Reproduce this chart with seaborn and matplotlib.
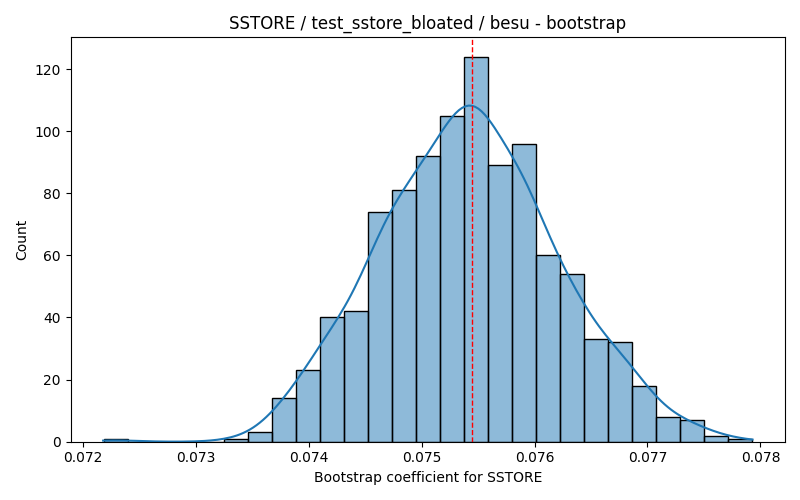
import numpy as np
import pandas as pd
import matplotlib
matplotlib.use("Agg")
import matplotlib.pyplot as plt
import seaborn as sns

# Histogram bins
bin_start = 0.0721853
bin_end = 0.0779260
n_bins = 27
counts = [1, 0, 0, 0, 0, 1, 3, 14, 23, 40, 42, 74, 81, 92, 105, 124,
          89, 96, 60, 54, 33, 32, 18, 8, 7, 2, 1]
point_estimate = 0.0754466

edges = np.linspace(bin_start, bin_end, n_bins + 1)
centers = (edges[:-1] + edges[1:]) / 2
df = pd.DataFrame({"coef": centers, "count": counts})

fig, ax = plt.subplots(figsize=(8, 5), dpi=100)
sns.histplot(data=df, x="coef", weights="count", bins=list(edges), kde=True,
             ax=ax, kde_kws={"cut": 0.3, "bw_adjust": 0.42})
ax.axvline(point_estimate, color="red", linestyle="--", linewidth=1)
ax.set_title("SSTORE / test_sstore_bloated / besu - bootstrap")
ax.set_xlabel("Bootstrap coefficient for SSTORE")
ax.set_ylabel("Count")
fig.tight_layout()
fig.savefig("out.png", dpi=100)
